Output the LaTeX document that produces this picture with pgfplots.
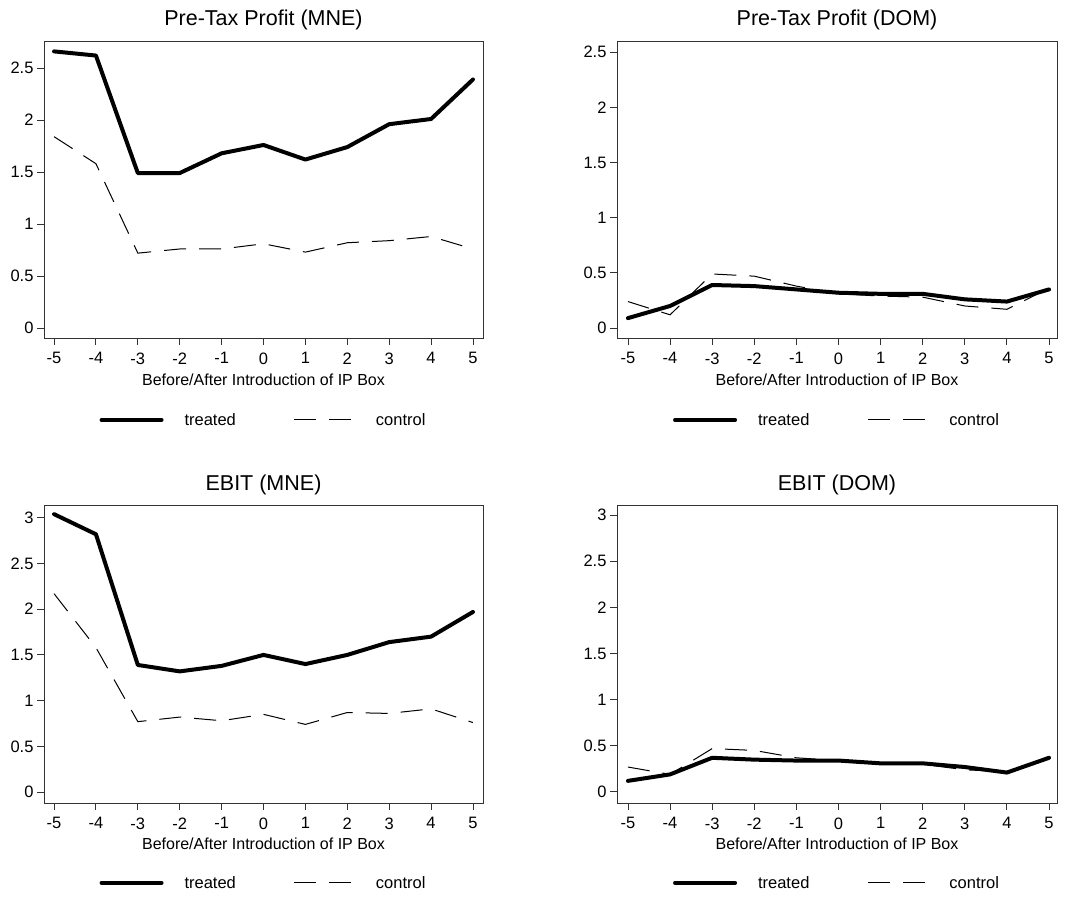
\documentclass[border=0pt]{standalone}
\usepackage{pgfplots}
\usepackage{pgfplotstable}
\pgfplotsset{compat=1.18}
\usepackage{fontspec}
\setmainfont{Liberation Sans}

\pgfplotstableread{
x t c
-5 2.66 1.84
-4 2.62 1.58
-3 1.49 0.72
-2 1.49 0.76
-1 1.68 0.76
0 1.76 0.81
1 1.62 0.73
2 1.74 0.82
3 1.96 0.84
4 2.01 0.88
5 2.39 0.76
}\ptmne
\pgfplotstableread{
x t c
-5 0.09 0.24
-4 0.20 0.12
-3 0.39 0.49
-2 0.38 0.47
-1 0.35 0.38
0 0.32 0.31
1 0.31 0.29
2 0.31 0.28
3 0.26 0.20
4 0.24 0.17
5 0.35 0.36
}\ptdom
\pgfplotstableread{
x t c
-5 3.04 2.17
-4 2.82 1.58
-3 1.39 0.77
-2 1.32 0.82
-1 1.38 0.78
0 1.50 0.85
1 1.40 0.74
2 1.50 0.87
3 1.64 0.86
4 1.70 0.91
5 1.97 0.76
}\ebmne
\pgfplotstableread{
x t c
-5 0.12 0.27
-4 0.19 0.19
-3 0.37 0.47
-2 0.35 0.45
-1 0.34 0.37
0 0.34 0.34
1 0.31 0.31
2 0.31 0.30
3 0.27 0.24
4 0.21 0.22
5 0.37 0.37
}\ebdom

\tikzset{
  treated/.style={black, line width=4pt, line join=round, line cap=round},
  control/.style={black, line width=1pt, dash pattern=on 22pt off 13pt},
}
\pgfplotsset{
 panel/.style={
  scale only axis, width=439pt,
  axis line style={draw=black!80, line width=0.9pt},
  tick style={draw=black!80, line width=0.9pt},
  major tick length=7pt, tick align=outside,
  xtick pos=bottom, ytick pos=left,
  xtick={-5,-4,-3,-2,-1,0,1,2,3,4,5},
  xticklabels={-5,-4,-3,-2,-1,0,1,2,3,4,5},
  ticklabel style={font=\fontsize{16.5}{19}\selectfont},
  xticklabel style={yshift=-4pt},
  xlabel={Before/After Introduction of IP Box},
  xlabel style={font=\fontsize{16}{19}\selectfont, at={(axis description cs:0.5,0)}, anchor=base, yshift=-47pt},
  title style={font=\fontsize{21.5}{25}\selectfont, at={(axis description cs:0.5,1)}, anchor=base, yshift=9pt},
  legend style={draw=none, fill=none, font=\fontsize{16.5}{19}\selectfont, legend columns=2, anchor=center,
     /tikz/every odd column/.append style={column sep=19pt},
     /tikz/every even column/.append style={column sep=56pt}},
  legend image code/.code={\draw[##1] (0pt,0pt) -- (60pt,0pt);},
 }
}

\begin{document}
\begin{tikzpicture}[x=1pt,y=1pt]
\useasboundingbox (0,0) rectangle (1078,898);

\begin{axis}[panel, at={(44pt,560pt)}, anchor=south west, height=297pt,
  xmin=-5.24, xmax=5.24, ymin=-0.096, ymax=2.76,
  ytick={0,0.5,1,1.5,2,2.5}, yticklabels={0,0.5,1,1.5,2,2.5},
  title={Pre-Tax Profit (MNE)},
  legend style={at={(0.5,-0.276)}}]
\addplot[treated] table[x=x,y=t]{\ptmne};
\addlegendentry{treated}
\addplot[control] table[x=x,y=c]{\ptmne};
\addlegendentry{control}
\end{axis}

\begin{axis}[panel, at={(617pt,560pt)}, anchor=south west, height=297pt, width=440pt,
  xmin=-5.26, xmax=5.19, ymin=-0.09, ymax=2.6,
  ytick={0,0.5,1,1.5,2,2.5}, yticklabels={0,0.5,1,1.5,2,2.5},
  title={Pre-Tax Profit (DOM)},
  legend style={at={(0.5,-0.276)}}]
\addplot[treated] table[x=x,y=t]{\ptdom};
\addlegendentry{treated}
\addplot[control] table[x=x,y=c]{\ptdom};
\addlegendentry{control}
\end{axis}

\begin{axis}[panel, at={(44pt,95pt)}, anchor=south west, height=298pt,
  xmin=-5.24, xmax=5.24, ymin=-0.12, ymax=3.14,
  ytick={0,0.5,1,1.5,2,2.5,3}, yticklabels={0,0.5,1,1.5,2,2.5,3},
  title={EBIT (MNE)},
  title style={yshift=-0.5pt},
  xlabel style={yshift=1pt},
  legend style={at={(0.5,-0.268)}}]
\addplot[treated] table[x=x,y=t]{\ebmne};
\addlegendentry{treated}
\addplot[control] table[x=x,y=c]{\ebmne};
\addlegendentry{control}
\end{axis}

\begin{axis}[panel, at={(617pt,95pt)}, anchor=south west, height=298pt, width=440pt,
  xmin=-5.26, xmax=5.19, ymin=-0.12, ymax=3.11,
  ytick={0,0.5,1,1.5,2,2.5,3}, yticklabels={0,0.5,1,1.5,2,2.5,3},
  title={EBIT (DOM)},
  title style={yshift=-0.5pt},
  xlabel style={yshift=1pt},
  legend style={at={(0.5,-0.268)}}]
\addplot[treated] table[x=x,y=t]{\ebdom};
\addlegendentry{treated}
\addplot[control] table[x=x,y=c]{\ebdom};
\addlegendentry{control}
\end{axis}
\end{tikzpicture}
\end{document}
